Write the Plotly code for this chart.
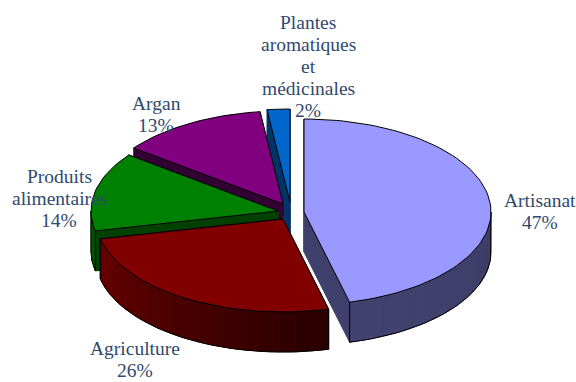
import math
import plotly.graph_objects as go

# Data
categories = ["Artisanat", "Agriculture", "Produits<br>alimentaires", "Argan",
              "Plantes<br>aromatiques<br>et<br>médicinales"]
values = [47, 26, 14, 13, 2]
labels_pct = ["47%", "26%", "14%", "13%", "2%"]

# Styles and layout
top_colors = ["#9999FF", "#800000", "#008000", "#800080", "#0066CC"]
wall_colors = ["#40406C", "#4A0000", "#004000", "#330033", "#003366"]
centers = [(304, 212), (283, 219), (278, 211), (283, 204), (290, 202)]
label_pos = [(540, 211), (135, 359), (59, 198), (156, 114), (308, 66)]
RX, RY, DEPTH = 187, 93, 40
LINE_H = 22
TEXT = "#2F4A6E"


def pt(c, deg, dy=0):
    a = math.radians(deg)
    return c[0] + RX * math.sin(a), c[1] - RY * math.cos(a) + dy


def shade(hex_color, f):
    r, g, b = (int(hex_color[i:i + 2], 16) for i in (1, 3, 5))
    return "#%02x%02x%02x" % (min(255, int(r * f)), min(255, int(g * f)), min(255, int(b * f)))


fig = go.Figure()


def poly(pts, fill, line="#000000", width=1):
    xs = [p[0] for p in pts] + [pts[0][0]]
    ys = [p[1] for p in pts] + [pts[0][1]]
    fig.add_trace(go.Scatter(x=xs, y=ys, mode="lines", fill="toself", fillcolor=fill,
                             line=dict(color=line, width=width), hoverinfo="skip",
                             showlegend=False))


total = sum(values)
spans = []
start = 0.0
for v in values:
    end = start + v / total * 360
    spans.append((start, end))
    start = end

# painter's order: back slices first
for i in [4, 3, 2, 1, 0]:
    c, (a0, a1) = centers[i], spans[i]
    wall = wall_colors[i]
    # cut walls
    for edge in (a0, a1):
        p = pt(c, edge)
        poly([c, p, (p[0], p[1] + DEPTH), (c[0], c[1] + DEPTH)], wall, line=wall)
    # outer wall with stepwise shading
    lo, hi = max(a0, 90), min(a1, 270)
    if hi > lo:
        n = max(1, int((hi - lo) / 5))
        for k in range(n):
            s0 = lo + (hi - lo) * k / n
            s1 = lo + (hi - lo) * (k + 1) / n
            mid = (s0 + s1) / 2
            if i == 1:
                f = 0.55 + 0.85 * (mid - 166) / 92
            elif i == 2:
                f = 1.3
            else:
                f = 0.95 + 0.1 * (mid - 90) / 80
            col = shade(wall, f)
            p0, p1 = pt(c, s0), pt(c, s1)
            poly([p0, p1, (p1[0], p1[1] + DEPTH), (p0[0], p0[1] + DEPTH)], col, line=col)
        # lower and vertical outlines of the wall
        arc = [pt(c, lo + (hi - lo) * k / 40, DEPTH) for k in range(41)]
        fig.add_trace(go.Scatter(x=[pt(c, lo)[0]] + [p[0] for p in arc] + [pt(c, hi)[0]],
                                 y=[pt(c, lo)[1]] + [p[1] for p in arc] + [pt(c, hi)[1]],
                                 mode="lines", line=dict(color="#000000", width=1),
                                 hoverinfo="skip", showlegend=False))
    # top face
    n = max(4, int((a1 - a0) / 2))
    arc = [pt(c, a0 + (a1 - a0) * k / n) for k in range(n + 1)]
    poly([c] + arc, top_colors[i])

annotations = []
for name, pct, (x, y) in zip(categories, labels_pct, label_pos):
    lines = name.split("<br>") + [pct]
    for j, line in enumerate(lines):
        annotations.append(dict(x=x, y=y + (j - (len(lines) - 1) / 2) * LINE_H,
                                xref="x", yref="y", text=line, showarrow=False,
                                xanchor="center", yanchor="middle",
                                font=dict(family="Liberation Serif", size=19.5, color=TEXT)))

fig.update_layout(
    width=576, height=382, margin=dict(l=0, r=0, t=0, b=0),
    paper_bgcolor="white", plot_bgcolor="white", showlegend=False,
    xaxis=dict(range=[0, 576], visible=False, fixedrange=True),
    yaxis=dict(range=[382, 0], visible=False, fixedrange=True),
    annotations=annotations,
)
fig.write_html("out.html", config={"displayModeBar": False},
               post_script="document.body.style.margin='0';document.documentElement.style.overflow='hidden';")
